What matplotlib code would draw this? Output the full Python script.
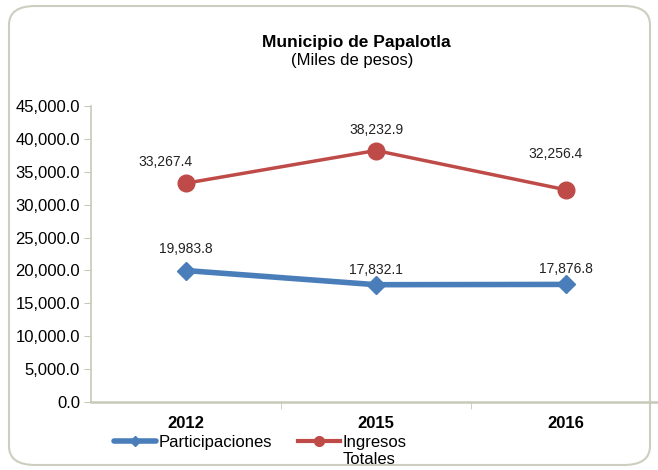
import matplotlib
matplotlib.use("Agg")
import matplotlib.pyplot as plt
from matplotlib.patches import FancyBboxPatch

years = ["2012", "2015", "2016"]
participaciones = [19983.8, 17832.1, 17876.8]
ingresos = [33267.4, 38232.9, 32256.4]
yticks = [0, 5000, 10000, 15000, 20000, 25000, 30000, 35000, 40000, 45000]

plt.rcParams['font.family'] = ['Liberation Sans', 'DejaVu Sans']

W, H = 658, 470
fig = plt.figure(figsize=(W / 100, H / 100), dpi=100)

# outer rounded border
border = FancyBboxPatch((9 / W, 1 - 465 / H), (650 - 9) / W, (465 - 6) / H,
                        boxstyle="round,pad=0,rounding_size=0.04",
                        transform=fig.transFigure, facecolor="white",
                        edgecolor="#cdcec0", linewidth=1.5, zorder=-5)
fig.patches.append(border)

left, right = 91, 661
top, bottom = 106, 402
ax = fig.add_axes([left / W, 1 - bottom / H, (right - left) / W, (bottom - top) / H])
ax.set_facecolor("none")

x = list(range(len(years)))
blue = "#4a7ebb"
red = "#be4b48"
ax.plot(x, participaciones, color=blue, lw=4, marker="D", ms=9, label="Participaciones",
        solid_capstyle="round", zorder=3)
ax.plot(x, ingresos, color=red, lw=2.5, marker="o", ms=12, label="Ingresos", zorder=3)

offs_p = [(0, 22), (0, 15), (0, 15)]
offs_i = [(-21, 21), (0, 21), (-10, 36)]
for xi, v, o in zip(x, participaciones, offs_p):
    ax.annotate(f"{v:,.1f}", (xi, v), xytext=o, textcoords="offset pixels",
                ha="center", va="center", fontsize=10, color="#222222")
for xi, v, o in zip(x, ingresos, offs_i):
    ax.annotate(f"{v:,.1f}", (xi, v), xytext=o, textcoords="offset pixels",
                ha="center", va="center", fontsize=10, color="#222222")

ax.set_xlim(-0.5, 2.5)
ax.set_ylim(0, 45000)
ax.set_yticks(yticks)
ax.set_yticklabels([f"{v:,.1f}" for v in yticks], fontsize=12)
ax.set_xticks(x)
ax.set_xticklabels(years, fontsize=12, fontweight="bold")
ax.set_xticks([0.5, 1.5], minor=True)
ax.tick_params(axis="x", which="major", length=0, pad=10)
ax.tick_params(axis="x", which="minor", length=5, color="#c8c9b9", direction="out")
ax.tick_params(axis="y", length=5, color="#c8c9b9", direction="out", pad=3)

for s in ["top", "right"]:
    ax.spines[s].set_visible(False)
ax.spines["left"].set_color("#c8c9b9")
ax.spines["bottom"].set_color("#c8c9b9")
ax.spines["left"].set_linewidth(1.2)
ax.spines["bottom"].set_linewidth(1.8)

fig.text(356 / W, 1 - 42 / H, "Municipio de Papalotla", ha="center", va="center",
         fontsize=12.5, fontweight="bold")
fig.text(352 / W, 1 - 60 / H, "(Miles de pesos)", ha="center", va="center", fontsize=12)

leg = fig.legend(loc="center left", bbox_to_anchor=(114 / W, 1 - 442 / H), ncol=2,
                 frameon=False, fontsize=12, handlelength=2.5, handletextpad=0.15,
                 columnspacing=1.6, borderpad=0, borderaxespad=0)
leg.legend_handles[0].set_markersize(5)
leg.legend_handles[1].set_markersize(7)
leg.legend_handles[1].set_linewidth(3)

fig.canvas.draw()
r = fig.canvas.get_renderer()
tb = leg.get_texts()[1].get_window_extent(r)
fig.text(tb.x0 / W, 1 - 459 / H, "Totales", ha="left", va="center", fontsize=12)

fig.savefig("out.png", dpi=100)
